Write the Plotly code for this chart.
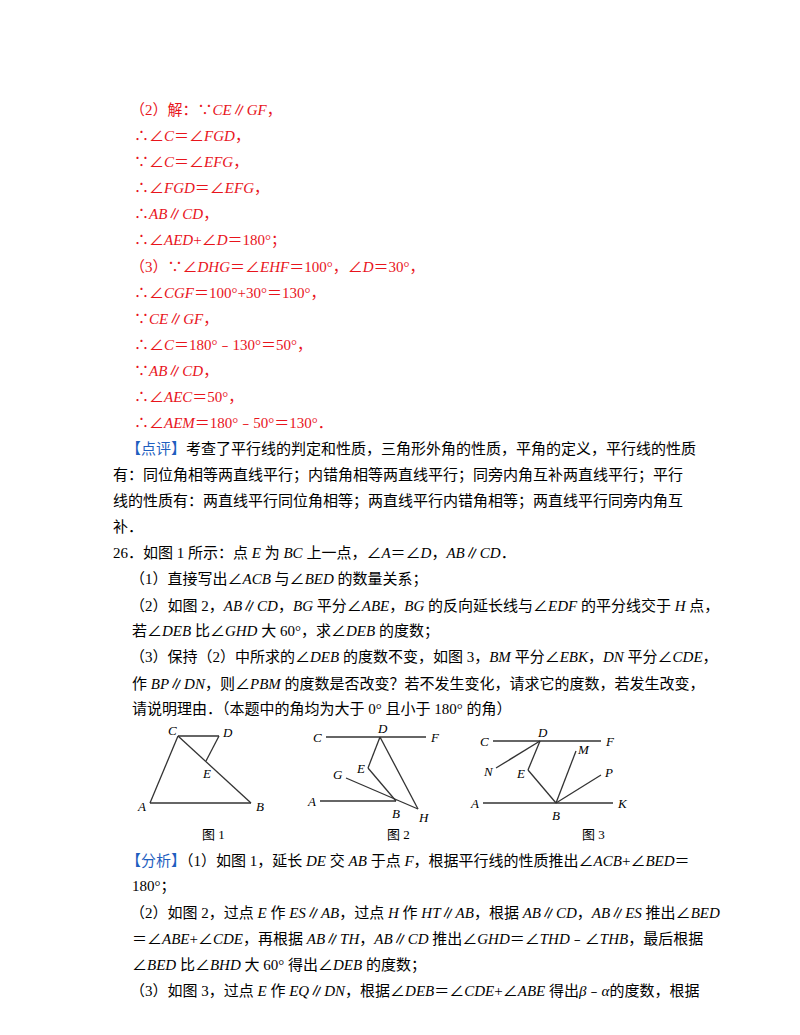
import re
import plotly.graph_objects as go

# text lines: (x, y, text)
red_lines = [
    (120, 102, "（2）解：∵CE∥GF，"),
    (124, 128, "∴∠C＝∠FGD，"),
    (124, 154, "∵∠C＝∠EFG，"),
    (124, 180, "∴∠FGD＝∠EFG，"),
    (124, 206, "∴AB∥CD，"),
    (124, 232, "∴∠AED+∠D＝180°；"),
    (120, 259, "（3）∵∠DHG＝∠EHF＝100°，∠D＝30°，"),
    (124, 285, "∴∠CGF＝100°+30°＝130°，"),
    (124, 311, "∵CE∥GF，"),
    (124, 337, "∴∠C＝180°﹣130°＝50°，"),
    (124, 363, "∵AB∥CD，"),
    (124, 389, "∴∠AEC＝50°，"),
    (124, 415, "∴∠AEM＝180°﹣50°＝130°．"),
]
black_lines = [
    (116, 441, "<span style='color:#1f5fbf'>【点评】</span>考查了平行线的判定和性质，三角形外角的性质，平角的定义，平行线的性质"),
    (103, 467, "有：同位角相等两直线平行；内错角相等两直线平行；同旁内角互补两直线平行；平行"),
    (103, 493, "线的性质有：两直线平行同位角相等；两直线平行内错角相等；两直线平行同旁内角互"),
    (103, 519, "补．"),
    (103, 545, "26．如图1所示：点E为BC上一点，∠A＝∠D，AB∥CD．"),
    (120, 571, "（1）直接写出∠ACB与∠BED的数量关系；"),
    (120, 597, "（2）如图2，AB∥CD，BG平分∠ABE，BG的反向延长线与∠EDF的平分线交于H点，"),
    (122, 623, "若∠DEB比∠GHD大60°，求∠DEB的度数；"),
    (120, 649, "（3）保持（2）中所求的∠DEB的度数不变，如图3，BM平分∠EBK，DN平分∠CDE，"),
    (122, 675, "作BP∥DN，则∠PBM的度数是否改变？若不发生变化，请求它的度数，若发生改变，"),
    (122, 701, "请说明理由．（本题中的角均为大于0°且小于180°的角）"),
    (116, 852, "<span style='color:#1f5fbf'>【分析】</span>（1）如图1，延长DE交AB于点F，根据平行线的性质推出∠ACB+∠BED＝"),
    (122, 878, "180°；"),
    (120, 905, "（2）如图2，过点E作ES∥AB，过点H作HT∥AB，根据AB∥CD，AB∥ES推出∠BED"),
    (122, 931, "＝∠ABE+∠CDE，再根据AB∥TH，AB∥CD推出∠GHD＝∠THD﹣∠THB，最后根据"),
    (122, 957, "∠BED比∠BHD大60°得出∠DEB的度数；"),
    (120, 983, "（3）如图3，过点E作EQ∥DN，根据∠DEB＝∠CDE+∠ABE得出β﹣α的度数，根据"),
]

# geometry figures: point name -> (x, y) in page pixels
fig1_pts = {"C": (170, 728), "D": (211, 728), "E": (198, 753), "A": (142, 795), "B": (243, 795)}
fig1_segs = [("C", "D"), ("D", "E"), ("C", "B"), ("C", "A"), ("A", "B")]
fig2_pts = {"C": (318, 729), "F": (418, 729), "D": (372, 729), "E": (360, 760), "G": (338, 770),
            "A": (312, 793), "B": (388, 793), "H": (410, 801)}
fig2_segs = [("C", "F"), ("D", "E"), ("E", "B"), ("D", "H"), ("G", "H"), ("A", "B")]
fig3_pts = {"C": (485, 733), "F": (593, 733), "D": (532, 733), "N": (488, 760), "E": (520, 762),
            "M": (568, 743), "P": (593, 767), "A": (475, 795), "K": (605, 795), "B": (548, 795)}
fig3_segs = [("C", "F"), ("D", "N"), ("D", "E"), ("E", "B"), ("B", "M"), ("B", "P"), ("A", "K")]
# label offsets
fig1_off = {"C": (-6, -6), "D": (8, -4), "E": (0, 12), "A": (-9, 3), "B": (9, 3)}
fig2_off = {"C": (-9, 0), "F": (9, 0), "D": (2, -9), "E": (-8, 0), "G": (-8, -4), "A": (-9, 0),
            "B": (0, 12), "H": (5, 8)}
fig3_off = {"C": (-9, 0), "F": (9, 0), "D": (2, -9), "N": (-8, 3), "E": (-8, 3), "M": (7, -2),
            "P": (7, -3), "A": (-9, 0), "K": (9, 0), "B": (0, 12)}
captions = [(205, 826, "图 1"), (390, 826, "图 2"), (585, 826, "图 3")]

FONT = "Liberation Serif, Noto Sans CJK SC, serif"
CJK = "\u4e00-\u9fff"


def ital(s):
    parts = re.split(r"(<[^>]+>)", s)
    out = []
    for p in parts:
        if p.startswith("<"):
            out.append(p)
            continue
        p = re.sub(r"([%s])([A-Za-z0-9])" % CJK, r"\1 \2", p)
        p = re.sub(r"([A-Za-z0-9°])([%s])" % CJK, r"\1 \2", p)
        p = re.sub(r"([A-Za-zαβ]+)", r"<i>\1</i>", p)
        out.append(p)
    return "".join(out)


fig = go.Figure()
ann = []
for x, y, t in red_lines:
    ann.append(dict(x=x, y=y, text=ital(t), font=dict(color="#e8141c")))
for x, y, t in black_lines:
    ann.append(dict(x=x, y=y, text=ital(t), font=dict(color="black")))
for x, y, t in captions:
    ann.append(dict(x=x, y=y, text=t, xanchor="center", font=dict(color="black", size=13)))

for pts, segs, off in [(fig1_pts, fig1_segs, fig1_off), (fig2_pts, fig2_segs, fig2_off),
                       (fig3_pts, fig3_segs, fig3_off)]:
    xs, ys = [], []
    for a, b in segs:
        xs += [pts[a][0], pts[b][0], None]
        ys += [pts[a][1], pts[b][1], None]
    fig.add_trace(go.Scatter(x=xs, y=ys, mode="lines", line=dict(color="#333", width=1.3),
                             hoverinfo="skip", showlegend=False))
    for k, (px, py) in pts.items():
        dx, dy = off[k]
        ann.append(dict(x=px + dx, y=py + dy, text="<i>%s</i>" % k, xanchor="center",
                        font=dict(color="black", size=13)))

for a in ann:
    a.setdefault("xanchor", "left")
    a.update(showarrow=False, yanchor="middle", xref="x", yref="y")
    a["font"].setdefault("size", 15)
    a["font"]["family"] = FONT

fig.update_layout(
    width=800, height=1035, margin=dict(l=0, r=0, t=0, b=0),
    paper_bgcolor="white", plot_bgcolor="white", annotations=ann,
    xaxis=dict(range=[0, 800], visible=False, fixedrange=True),
    yaxis=dict(range=[1035, 0], visible=False, fixedrange=True),
)
fig.write_html("out.html")
